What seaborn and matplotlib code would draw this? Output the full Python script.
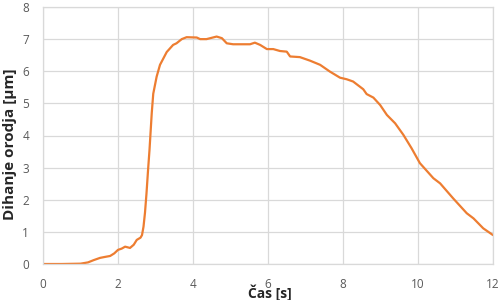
import matplotlib
matplotlib.use("Agg")
import matplotlib.pyplot as plt
import seaborn as sns
import pandas as pd

time_s = [0.0, 0.5, 1.0, 1.2, 1.35, 1.52, 1.65, 1.79, 1.9, 2.0, 2.1, 2.19, 2.32, 2.42, 2.5, 2.6, 2.64,
          2.68, 2.72, 2.76, 2.8, 2.84, 2.9, 2.94, 3.03, 3.12, 3.3, 3.47, 3.56, 3.7, 3.83, 4.1,
          4.19, 4.36, 4.63, 4.77, 4.9, 5.07, 5.25, 5.52, 5.65, 5.79, 5.97, 6.14, 6.32, 6.5,
          6.59, 6.85, 7.12, 7.39, 7.65, 7.92, 8.1, 8.27, 8.54, 8.63, 8.81, 8.99, 9.17, 9.39,
          9.61, 9.83, 10.05, 10.41, 10.59, 10.94, 11.3, 11.48, 11.74, 12.0]
wear_um = [0.0, 0.0, 0.01, 0.05, 0.12, 0.19, 0.22, 0.25, 0.33, 0.44, 0.48, 0.54, 0.5, 0.6, 0.75, 0.82, 0.9,
           1.16, 1.6, 2.2, 2.9, 3.55, 4.7, 5.3, 5.83, 6.2, 6.6, 6.82, 6.87, 7.0, 7.06, 7.05,
           7.0, 7.0, 7.08, 7.03, 6.87, 6.84, 6.84, 6.84, 6.89, 6.82, 6.69, 6.69, 6.63, 6.61,
           6.46, 6.44, 6.33, 6.2, 5.99, 5.8, 5.75, 5.68, 5.44, 5.29, 5.18, 4.95, 4.64, 4.38,
           4.02, 3.6, 3.14, 2.67, 2.51, 2.04, 1.58, 1.42, 1.11, 0.9]

x_ticks = [0, 2, 4, 6, 8, 10, 12]
y_ticks = [0, 1, 2, 3, 4, 5, 6, 7, 8]

sns.set_theme(style="white")
plt.rcParams['font.family'] = ['Open Sans', 'DejaVu Sans']

df = pd.DataFrame({"t": time_s, "w": wear_um})

fig = plt.figure(figsize=(5.02, 3.0), dpi=100)
ax = fig.add_axes([43/502, 1-264/300, 450/502, 257/300])
sns.lineplot(data=df, x="t", y="w", ax=ax, color="#ED7D31", linewidth=1.6)

ax.set_xlim(0, 12)
ax.set_ylim(0, 8)
ax.set_xticks(x_ticks)
ax.set_yticks(y_ticks)
ax.grid(True, color="#D9D9D9", linewidth=0.9)
for s in ax.spines.values():
    s.set_color("#D9D9D9")
    s.set_linewidth(0.9)
ax.tick_params(axis="x", length=0, labelsize=8.5, colors="#595959", pad=10)
ax.tick_params(axis="y", length=0, labelsize=8.5, colors="#595959", pad=10)
ax.set_xlabel("")
ax.set_ylabel("")
fig.text(270/502, 1-293/300, "Čas [s]", ha="center", va="center", fontsize=10,
         fontweight="bold", color="#262626")
fig.text(10/502, 1-144/300, "Dihanje orodja [μm]", ha="center", va="center", rotation=90,
         fontsize=11, fontweight="bold", color="#262626")

fig.savefig("out.png", dpi=100)
